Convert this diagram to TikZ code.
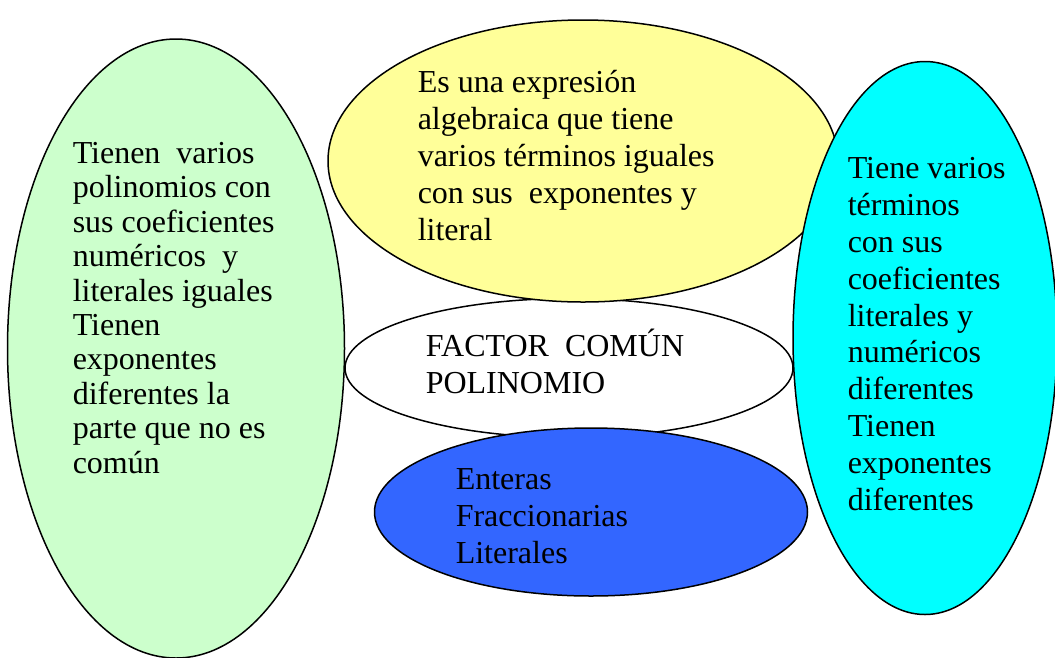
\documentclass[tikz,border=0pt]{standalone}
\usepackage{fontspec}
\setmainfont{Liberation Serif}
\usetikzlibrary{shapes.geometric}
\tikzset{every picture/.style={line width=1.5pt}}
\definecolor{verde}{HTML}{CCFFCC}
\definecolor{amarillo}{HTML}{FFFF99}
\definecolor{celeste}{HTML}{00FFFF}
\definecolor{azul}{HTML}{3366FF}
\tikzset{bubble/.style={ellipse,draw=black,inner sep=0pt}}
\tikzset{txt/.style={anchor=base west,align=left,inner sep=0pt,font=\fontsize{32}{36.8}\selectfont}}
\begin{document}
\begin{tikzpicture}[x=1pt,y=-1pt]
\useasboundingbox (0,0) rectangle (1055,657);
%
\node[bubble,fill=verde,minimum width=337pt,minimum height=619pt] (izq) at (176,348.5) {};
\node[bubble,fill=white,minimum width=448pt,minimum height=139pt] (centro) at (569,368) {};
\node[bubble,fill=amarillo,minimum width=510pt,minimum height=282pt] (arriba) at (583,161) {};
\node[bubble,fill=azul,minimum width=433pt,minimum height=168pt] (abajo) at (591,512) {};
\node[bubble,fill=celeste,minimum width=264pt,minimum height=553pt] (der) at (925,338) {};
%
% base anchor = last line
\node[txt,font=\fontsize{32}{34.4}\selectfont] (tizq) at (72,473) {Tienen\ \ varios\\polinomios con\\sus coeficientes\\numéricos\ \ y\\literales iguales\\Tienen\\exponentes\\diferentes la\\parte que no es\\común};
\node[txt] (tarriba) at (417,240) {Es una expresión\\algebraica que tiene\\varios términos iguales\\con sus\ \ exponentes y\\literal};
\node[txt] (tcentro) at (425,393) {FACTOR\ \ COMÚN\\POLINOMIO};
\node[txt] (tabajo) at (455,563) {Enteras\\Fraccionarias\\Literales};
\node[txt] (tder) at (847,510) {Tiene varios\\términos\\con sus\\coeficientes\\literales y\\numéricos\\diferentes\\Tienen\\exponentes\\diferentes};
\end{tikzpicture}
\end{document}
